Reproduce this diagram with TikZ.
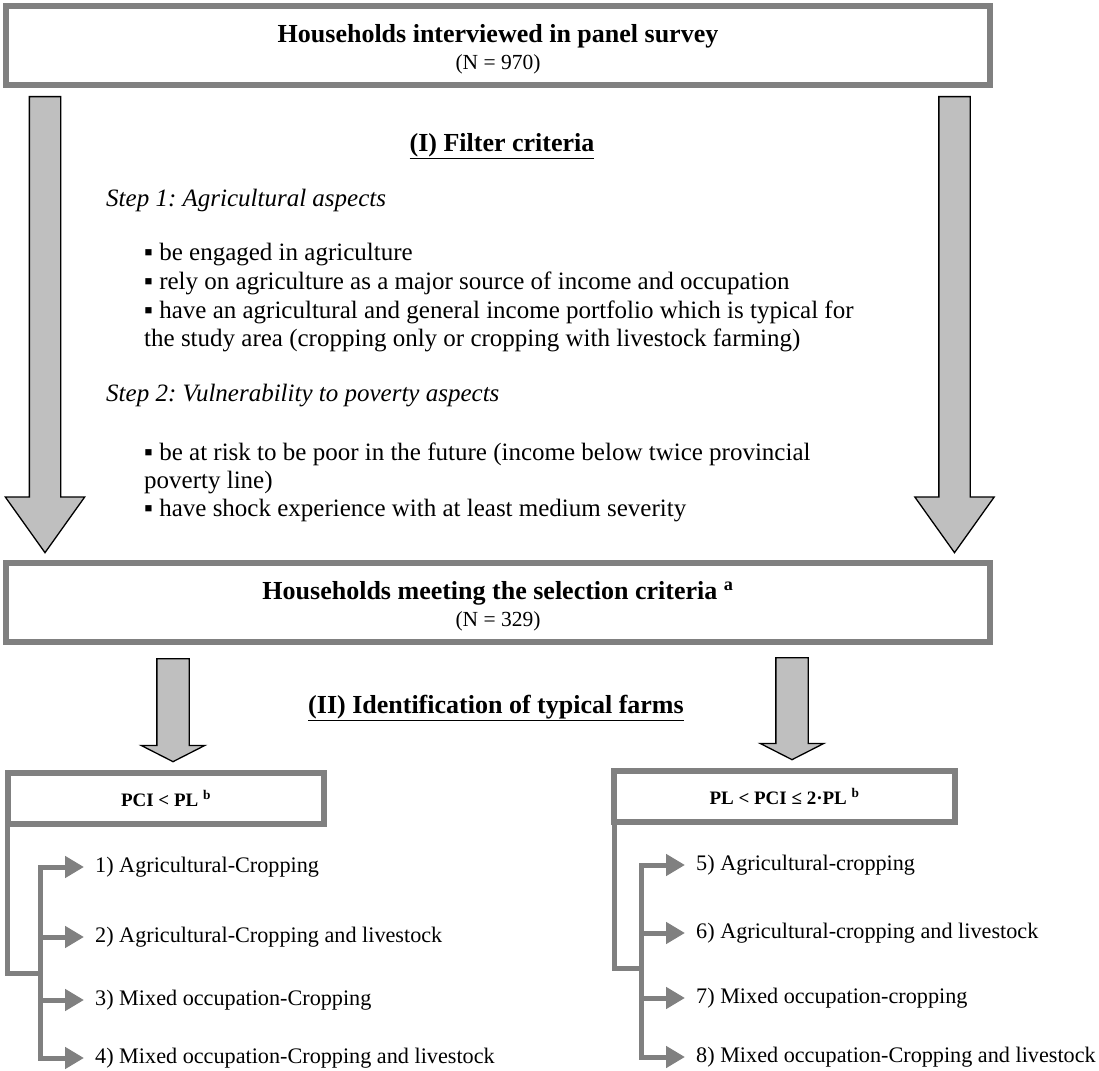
\documentclass[tikz,border=0pt]{standalone}
\usepackage{fontspec}
\setmainfont{Liberation Serif}
\frenchspacing
\usetikzlibrary{arrows.meta,shapes.arrows,positioning}

\begin{document}
\begin{tikzpicture}[x=1pt, y=1pt,
        box/.style={rectangle, draw=gray, line width=6pt, outer sep=0pt, inner sep=0pt, align=center},
        bigarrow/.style={single arrow, draw, fill=black!25, line width=1.3pt, inner xsep=0pt, inner ysep=15pt, single arrow head extend=24pt, single arrow tip angle=71, rotate=-90, anchor=tail},
        midarrow/.style={bigarrow, inner ysep=15.5pt, single arrow head extend=15.5pt, single arrow tip angle=126},
        heading/.style={anchor=base, inner sep=0pt, font=\fontsize{26}{30}\selectfont\bfseries},
        textline/.style={anchor=base west, inner sep=0pt, align=left, font=\fontsize{25}{28}\selectfont},
        steptext/.style={textline, font=\fontsize{25}{28}\selectfont\itshape},
        farm/.style={anchor=west, inner sep=0pt, inner xsep=11pt, font=\fontsize{22.2}{26}\selectfont},
        farmtip/.tip={Triangle[length=19pt,width=21pt]},
        trunk/.style={draw=gray, line width=5pt},
        branch/.style={trunk, -farmtip}
    ]
        \useasboundingbox (0,0) rectangle (1099,-1070);

        % boxes
        \node[box, minimum width=984pt, minimum height=79pt, font=\fontsize{21.5}{26.5}\selectfont] (survey) at (498,-45.5)
            {\rule{0pt}{26pt}{\fontsize{26}{30}\selectfont\bfseries Households interviewed in panel survey}\\(N = 970)};
        \node[box, minimum width=984pt, minimum height=79pt, font=\fontsize{21.5}{26.5}\selectfont] (select) at (498,-602.5)
            {\rule{0pt}{26pt}{\fontsize{26}{30}\selectfont\bfseries Households meeting the selection criteria \textsuperscript{a}}\\(N = 329)};
        \node[box, minimum width=316.5pt, minimum height=51pt, font=\fontsize{19}{22}\selectfont\bfseries] (lowpci) at (166,-798.5)
            {PCI < PL \textsuperscript{b}};
        \node[box, minimum width=341pt, minimum height=51pt, font=\fontsize{19}{22}\selectfont\bfseries] (midpci) at (784.5,-796.5)
            {PL < PCI ≤ 2·PL \textsuperscript{b}};

        % block arrows
        \node[bigarrow, minimum height=456pt] (arrL) at (45,-96) {};
        \node[bigarrow, minimum height=456pt] (arrR) at (954.5,-96) {};
        \node[midarrow, minimum height=103pt] (medL) at (173,-658) {};
        \node[midarrow, minimum height=102pt] (medR) at (792,-657) {};

        % filter criteria
        \node[heading] (filter) at (502,-151) {\underline{(I) Filter criteria}};
        \node[steptext] (step1) at (106,-206) {Step 1: Agricultural aspects};
        \node[textline] (crit1) at (144,-260) {▪ be engaged in agriculture};
        \node[textline] (crit2) at (144,-289) {▪ rely on agriculture as a major source of income and occupation};
        \node[textline] (crit3) at (144,-346) {▪ have an agricultural and general income portfolio which is typical for\\the study area (cropping only or cropping with livestock farming)};
        \node[steptext] (step2) at (106,-401) {Step 2: Vulnerability to poverty aspects};
        \node[textline] (crit4) at (144,-488) {▪ be at risk to be poor in the future (income below twice provincial\\poverty line)};
        \node[textline] (crit5) at (144,-516) {▪ have shock experience with at least medium severity};

        % typical farms
        \node[heading] (ident) at (496,-713) {\underline{(II) Identification of typical farms}};
        \node[farm] (farm1) at (84,-867) {1) Agricultural-Cropping};
        \node[farm] (farm2) at (84,-937) {2) Agricultural-Cropping and livestock};
        \node[farm] (farm3) at (84,-1000) {3) Mixed occupation-Cropping};
        \node[farm] (farm4) at (84,-1058) {4) Mixed occupation-Cropping and livestock};
        \node[farm] (farm5) at (685,-865) {5) Agricultural-cropping};
        \node[farm] (farm6) at (685,-933) {6) Agricultural-cropping and livestock};
        \node[farm] (farm7) at (685,-998) {7) Mixed occupation-cropping};
        \node[farm] (farm8) at (685,-1057) {8) Mixed occupation-Cropping and livestock};

        \coordinate (lsplit) at (40,-973);
        \coordinate (rsplit) at (641,-968);

        \draw[trunk] (lowpci.south west) |- (lsplit);
        \draw[trunk, farmtip-farmtip] (farm1.west) -| (lsplit |- farm4.west) -- (farm4.west);
        \draw[branch] (lsplit |- farm2.west) -- (farm2.west);
        \draw[branch] (lsplit |- farm3.west) -- (farm3.west);

        \draw[trunk] (midpci.south west) |- (rsplit);
        \draw[trunk, farmtip-farmtip] (farm5.west) -| (rsplit |- farm8.west) -- (farm8.west);
        \draw[branch] (rsplit |- farm6.west) -- (farm6.west);
        \draw[branch] (rsplit |- farm7.west) -- (farm7.west);
    \end{tikzpicture}
\end{document}
